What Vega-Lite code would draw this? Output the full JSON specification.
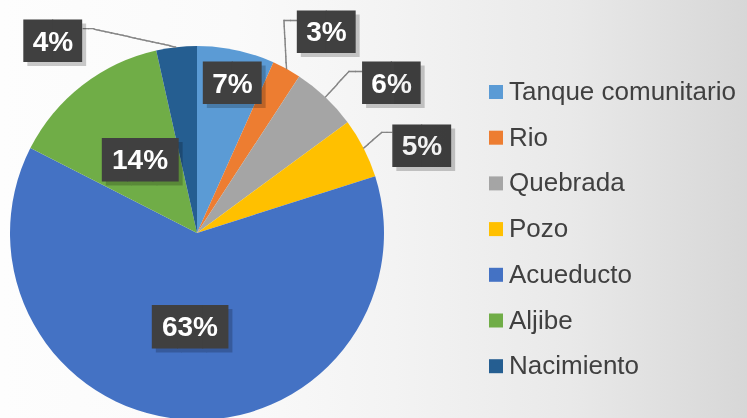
{
  "$schema": "https://vega.github.io/schema/vega-lite/v6.json",
  "padding": 0,
  "background": "#ffffff",
  "spacing": 0,
  "bounds": "flush",
  "config": {"view": {"stroke": null}},
  "hconcat": [
    {
      "width": 394,
      "height": 466,
      "data": {"values": [
        {"fuente": "Tanque comunitario", "value": 6.7, "label": "7%", "orden": 1},
        {"fuente": "Rio", "value": 2.5, "label": "3%", "orden": 2},
        {"fuente": "Quebrada", "value": 5.7, "label": "6%", "orden": 3},
        {"fuente": "Pozo", "value": 5.2, "label": "5%", "orden": 4},
        {"fuente": "Acueducto", "value": 62.4, "label": "63%", "orden": 5},
        {"fuente": "Aljibe", "value": 14.0, "label": "14%", "orden": 6},
        {"fuente": "Nacimiento", "value": 3.5, "label": "4%", "orden": 7}
      ]},
      "transform": [{"stack": "value", "groupby": [], "sort": [{"field": "orden", "order": "ascending"}], "as": ["s0", "s1"]}],
      "layer": [
        {
          "data": {"values": [{}]},
          "mark": {"type": "rect", "fill": {"gradient": "linear", "x1": 0, "y1": 0, "x2": 1, "y2": 0, "stops": [{"offset": 0, "color": "#fdfdfd"}, {"offset": 0.6, "color": "#fafafa"}, {"offset": 1, "color": "#f3f3f3"}]}}
        },
        {
          "mark": {"type": "arc", "outerRadius": 187},
          "encoding": {
            "theta": {"field": "s0", "type": "quantitative", "stack": null, "scale": {"domain": [0, 100]}},
            "theta2": {"field": "s1"},
            "color": {
              "field": "fuente", "type": "nominal",
              "scale": {"domain": ["Tanque comunitario", "Rio", "Quebrada", "Pozo", "Acueducto", "Aljibe", "Nacimiento"], "range": ["#5B9BD5", "#ED7D31", "#A5A5A5", "#FFC000", "#4472C4", "#70AD47", "#255E91"]},
              "legend": {"orient": "none", "legendX": 483, "legendY": 79, "padding": 0, "title": null, "symbolType": "square", "symbolSize": 196, "labelFont": "Liberation Sans", "labelFontSize": 26, "labelColor": "#404040", "labelLimit": 400, "labelOffset": 0, "rowPadding": 19.7, "symbolStrokeWidth": 0}
            }
          }
        },
        {
          "transform": [{"filter": "datum.fuente === 'Tanque comunitario'"}],
          "encoding": {"theta": {"field": "s0", "type": "quantitative", "stack": null, "scale": {"domain": [0, 100]}}},
          "layer": [
            {"mark": {"type": "text", "radius": 154.1, "thetaOffset": 0.2321, "text": "▆▆", "font": "DejaVu Sans Mono", "fontSize": 48, "baseline": "middle", "align": "center", "dx": 4, "dy": -0.8, "fill": "#000000", "opacity": 0.2}},
            {"mark": {"type": "text", "radius": 154.1, "thetaOffset": 0.2321, "text": "▆▆", "font": "DejaVu Sans Mono", "fontSize": 48, "baseline": "middle", "align": "center", "dy": -4.8, "fill": "#404040"}},
            {"mark": {"type": "text", "radius": 154.1, "thetaOffset": 0.2321, "font": "Liberation Sans", "fontSize": 28, "fontWeight": "bold", "fill": "#ffffff", "baseline": "middle", "align": "center", "dy": 1.6}, "encoding": {"text": {"field": "label", "type": "nominal"}}}
          ]
        },
        {
          "transform": [{"filter": "datum.fuente === 'Rio'"}],
          "encoding": {"theta": {"field": "s0", "type": "quantitative", "stack": null, "scale": {"domain": [0, 100]}}},
          "layer": [
            {"mark": {"type": "text", "radius": 208.1, "thetaOffset": 0.0169, "angle": 87.1, "text": "────────", "font": "DejaVu Sans Mono", "fontSize": 10.19, "baseline": "middle", "align": "center", "dy": 0.5, "fill": "#808080", "stroke": "#808080", "strokeWidth": 0.5}},
            {"mark": {"type": "text", "radius": 232.6, "thetaOffset": -0.0073, "angle": 0, "text": "──", "font": "DejaVu Sans Mono", "fontSize": 10.8, "baseline": "middle", "align": "center", "dy": 0.5, "fill": "#808080", "stroke": "#808080", "strokeWidth": 0.5}},
            {"mark": {"type": "text", "radius": 239.5, "thetaOffset": 0.1497, "text": "▆▆", "font": "DejaVu Sans Mono", "fontSize": 48, "baseline": "middle", "align": "center", "dx": 4, "dy": -0.8, "fill": "#000000", "opacity": 0.2}},
            {"mark": {"type": "text", "radius": 239.5, "thetaOffset": 0.1497, "text": "▆▆", "font": "DejaVu Sans Mono", "fontSize": 48, "baseline": "middle", "align": "center", "dy": -4.8, "fill": "#404040"}},
            {"mark": {"type": "text", "radius": 239.5, "thetaOffset": 0.1497, "font": "Liberation Sans", "fontSize": 28, "fontWeight": "bold", "fill": "#ffffff", "baseline": "middle", "align": "center", "dy": 1.6}, "encoding": {"text": {"field": "label", "type": "nominal"}}}
          ]
        },
        {
          "transform": [{"filter": "datum.fuente === 'Quebrada'"}],
          "encoding": {"theta": {"field": "s0", "type": "quantitative", "stack": null, "scale": {"domain": [0, 100]}}},
          "layer": [
            {"mark": {"type": "text", "radius": 204.6, "thetaOffset": 0.177, "angle": 312.1, "text": "──────", "font": "DejaVu Sans Mono", "fontSize": 9.7, "baseline": "middle", "align": "center", "dy": 0.5, "fill": "#808080", "stroke": "#808080", "strokeWidth": 0.5}},
            {"mark": {"type": "text", "radius": 226.6, "thetaOffset": 0.1963, "angle": 0, "text": "──", "font": "DejaVu Sans Mono", "fontSize": 10.8, "baseline": "middle", "align": "center", "dy": 0.5, "fill": "#808080", "stroke": "#808080", "strokeWidth": 0.5}},
            {"mark": {"type": "text", "radius": 245.6, "thetaOffset": 0.3365, "text": "▆▆", "font": "DejaVu Sans Mono", "fontSize": 48, "baseline": "middle", "align": "center", "dx": 4, "dy": -0.8, "fill": "#000000", "opacity": 0.2}},
            {"mark": {"type": "text", "radius": 245.6, "thetaOffset": 0.3365, "text": "▆▆", "font": "DejaVu Sans Mono", "fontSize": 48, "baseline": "middle", "align": "center", "dy": -4.8, "fill": "#404040"}},
            {"mark": {"type": "text", "radius": 245.6, "thetaOffset": 0.3365, "font": "Liberation Sans", "fontSize": 28, "fontWeight": "bold", "fill": "#ffffff", "baseline": "middle", "align": "center", "dy": 1.6}, "encoding": {"text": {"field": "label", "type": "nominal"}}}
          ]
        },
        {
          "transform": [{"filter": "datum.fuente === 'Pozo'"}],
          "encoding": {"theta": {"field": "s0", "type": "quantitative", "stack": null, "scale": {"domain": [0, 100]}}},
          "layer": [
            {"mark": {"type": "text", "radius": 198.9, "thetaOffset": 0.148, "angle": 319, "text": "────", "font": "DejaVu Sans Mono", "fontSize": 10.13, "baseline": "middle", "align": "center", "dy": 0.5, "fill": "#808080", "stroke": "#808080", "strokeWidth": 0.5}},
            {"mark": {"type": "text", "radius": 215.2, "thetaOffset": 0.1461, "angle": 0, "text": "──", "font": "DejaVu Sans Mono", "fontSize": 8.3, "baseline": "middle", "align": "center", "dy": 0.5, "fill": "#808080", "stroke": "#808080", "strokeWidth": 0.5}},
            {"mark": {"type": "text", "radius": 241.4, "thetaOffset": 0.2628, "text": "▆▆", "font": "DejaVu Sans Mono", "fontSize": 48, "baseline": "middle", "align": "center", "dx": 4, "dy": -0.8, "fill": "#000000", "opacity": 0.2}},
            {"mark": {"type": "text", "radius": 241.4, "thetaOffset": 0.2628, "text": "▆▆", "font": "DejaVu Sans Mono", "fontSize": 48, "baseline": "middle", "align": "center", "dy": -4.8, "fill": "#404040"}},
            {"mark": {"type": "text", "radius": 241.4, "thetaOffset": 0.2628, "font": "Liberation Sans", "fontSize": 28, "fontWeight": "bold", "fill": "#ffffff", "baseline": "middle", "align": "center", "dy": 1.6}, "encoding": {"text": {"field": "label", "type": "nominal"}}}
          ]
        },
        {
          "transform": [{"filter": "datum.fuente === 'Acueducto'"}],
          "encoding": {"theta": {"field": "s0", "type": "quantitative", "stack": null, "scale": {"domain": [0, 100]}}},
          "layer": [
            {"mark": {"type": "text", "radius": 93.8, "thetaOffset": 1.9537, "text": "▇▇▇", "font": "DejaVu Sans Mono", "fontSize": 42, "baseline": "middle", "align": "center", "dx": 4, "dy": 2.9, "fill": "#000000", "opacity": 0.2}},
            {"mark": {"type": "text", "radius": 93.8, "thetaOffset": 1.9537, "text": "▇▇▇", "font": "DejaVu Sans Mono", "fontSize": 42, "baseline": "middle", "align": "center", "dy": -1.1, "fill": "#404040"}},
            {"mark": {"type": "text", "radius": 93.8, "thetaOffset": 1.9537, "font": "Liberation Sans", "fontSize": 28, "fontWeight": "bold", "fill": "#ffffff", "baseline": "middle", "align": "center", "dy": 1.6}, "encoding": {"text": {"field": "label", "type": "nominal"}}}
          ]
        },
        {
          "transform": [{"filter": "datum.fuente === 'Aljibe'"}],
          "encoding": {"theta": {"field": "s0", "type": "quantitative", "stack": null, "scale": {"domain": [0, 100]}}},
          "layer": [
            {"mark": {"type": "text", "radius": 93.4, "thetaOffset": 0.4433, "text": "▇▇▇", "font": "DejaVu Sans Mono", "fontSize": 42, "baseline": "middle", "align": "center", "dx": 4, "dy": 2.9, "fill": "#000000", "opacity": 0.2}},
            {"mark": {"type": "text", "radius": 93.4, "thetaOffset": 0.4433, "text": "▇▇▇", "font": "DejaVu Sans Mono", "fontSize": 42, "baseline": "middle", "align": "center", "dy": -1.1, "fill": "#404040"}},
            {"mark": {"type": "text", "radius": 93.4, "thetaOffset": 0.4433, "font": "Liberation Sans", "fontSize": 28, "fontWeight": "bold", "fill": "#ffffff", "baseline": "middle", "align": "center", "dy": 1.6}, "encoding": {"text": {"field": "label", "type": "nominal"}}}
          ]
        },
        {
          "transform": [{"filter": "datum.fuente === 'Nacimiento'"}],
          "encoding": {"theta": {"field": "s0", "type": "quantitative", "stack": null, "scale": {"domain": [0, 100]}}},
          "layer": [
            {"mark": {"type": "text", "radius": 204.6, "thetaOffset": -0.088, "angle": 12.38, "text": "──────────────", "font": "DejaVu Sans Mono", "fontSize": 9.96, "baseline": "middle", "align": "center", "dy": 0.5, "fill": "#808080", "stroke": "#808080", "strokeWidth": 0.5}},
            {"mark": {"type": "text", "radius": 231.1, "thetaOffset": -0.2688, "angle": 0, "text": "──", "font": "DejaVu Sans Mono", "fontSize": 9.14, "baseline": "middle", "align": "center", "dy": 0.5, "fill": "#808080", "stroke": "#808080", "strokeWidth": 0.5}},
            {"mark": {"type": "text", "radius": 240, "thetaOffset": -0.4241, "text": "▆▆", "font": "DejaVu Sans Mono", "fontSize": 48, "baseline": "middle", "align": "center", "dx": 4, "dy": -0.8, "fill": "#000000", "opacity": 0.2}},
            {"mark": {"type": "text", "radius": 240, "thetaOffset": -0.4241, "text": "▆▆", "font": "DejaVu Sans Mono", "fontSize": 48, "baseline": "middle", "align": "center", "dy": -4.8, "fill": "#404040"}},
            {"mark": {"type": "text", "radius": 240, "thetaOffset": -0.4241, "font": "Liberation Sans", "fontSize": 28, "fontWeight": "bold", "fill": "#ffffff", "baseline": "middle", "align": "center", "dy": 1.6}, "encoding": {"text": {"field": "label", "type": "nominal"}}}
          ]
        }
      ]
    },
    {
      "width": 353,
      "height": 466,
      "data": {"values": [{}]},
      "mark": {"type": "rect", "blend": "multiply", "fill": {"gradient": "linear", "x1": 0, "y1": 0, "x2": 1, "y2": 0, "stops": [{"offset": 0, "color": "#f3f3f3"}, {"offset": 0.5, "color": "#e9e9e9"}, {"offset": 1, "color": "#d7d7d7"}]}}
    }
  ]
}
